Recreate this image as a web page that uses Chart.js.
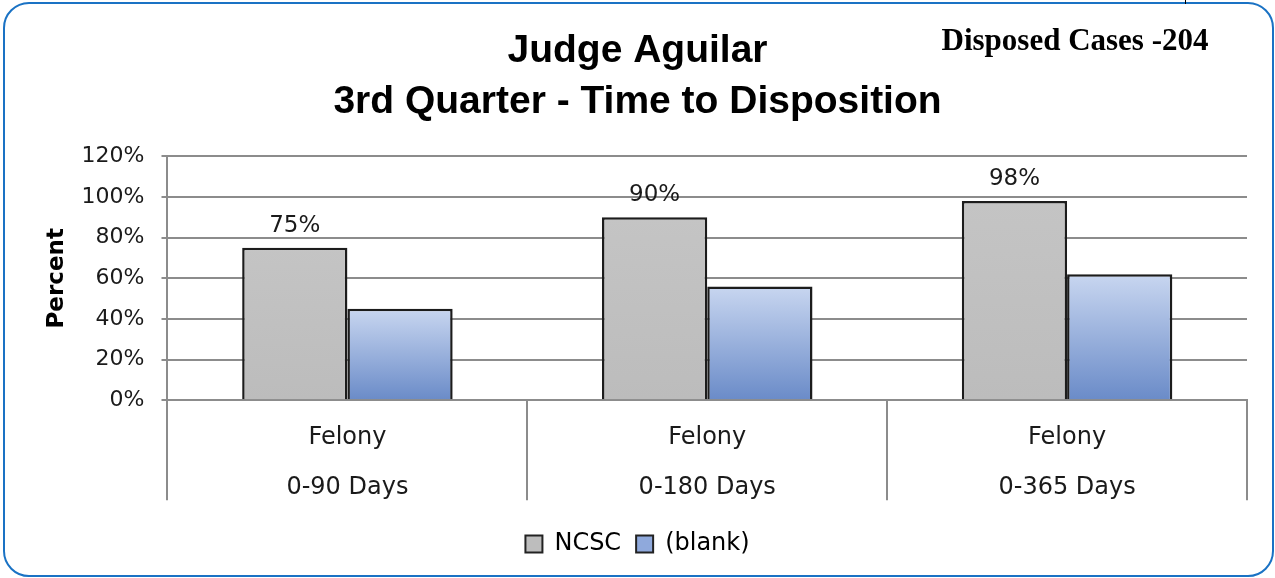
<!DOCTYPE html>
<html>
<head>
<meta charset="utf-8">
<script src="https://cdn.jsdelivr.net/npm/chart.js@4/dist/chart.umd.min.js"></script>
<style>
  body { margin: 0; background: #fff; }
  #wrap { position: relative; width: 1275px; height: 578px; overflow: hidden; }
  #frame { position: absolute; left: 3px; top: 2px; width: 1267px; height: 571px;
           border: 2px solid #1a72c4; border-radius: 26px; pointer-events: none; }
  #mark { position: absolute; left: 1185px; top: 0; width: 1px; height: 4px; background: #000; }
  #cases { position: absolute; left: 900px; width: 350px; top: 22px; text-align: center;
           font: bold 31px "Liberation Serif", serif; color: #000; }
</style>
</head>
<body>
<div id="wrap">
  <canvas id="days_chart" width="1275" height="578"></canvas>
  <div id="frame"></div>
  <div id="mark"></div>
  <div id="cases">Disposed Cases -204</div>
</div>
<script>
var categories = [['Felony', '0-90 Days'], ['Felony', '0-180 Days'], ['Felony', '0-365 Days']];
var ncsc_values = [75, 90, 98];
var blank_values = [45, 56, 62];
var y_ticks = [0, 20, 40, 60, 80, 100, 120];

var axisFont = 'DejaVu Sans';

// gradient per bar, light at the top and darker at the base
function barGradient(ctx, top, bottom) {
  var chart = ctx.chart;
  var area = chart.chartArea;
  if (!area) return bottom;
  var ys = chart.scales.y;
  var v = ctx.dataset.data[ctx.dataIndex];
  var g = chart.ctx.createLinearGradient(0, ys.getPixelForValue(v), 0, ys.getPixelForValue(0));
  g.addColorStop(0, top);
  g.addColorStop(1, bottom);
  return g;
}

var valueLabels = {
  id: 'valueLabels',
  afterDatasetsDraw: function(chart) {
    var c = chart.ctx;
    var meta = chart.getDatasetMeta(0);
    c.save();
    c.font = '23px ' + axisFont;
    c.fillStyle = '#1a1a1a';
    c.textAlign = 'center';
    c.textBaseline = 'alphabetic';
    meta.data.forEach(function(bar, i) {
      c.fillText(ncsc_values[i] + '%', bar.x, bar.y - 16);
    });
    c.restore();
  }
};

// vertical separators between the category groups, below the axis
var groupLines = {
  id: 'groupLines',
  afterDraw: function(chart) {
    var xs = chart.scales.x;
    var c = chart.ctx;
    var step = xs.width / categories.length;
    c.save();
    c.strokeStyle = '#8c8c8c';
    c.lineWidth = 2;
    for (var i = 0; i <= categories.length; i++) {
      var x = Math.round(xs.left + i * step);
      c.beginPath();
      c.moveTo(x, xs.top);
      c.lineTo(x, xs.top + 100);
      c.stroke();
    }
    c.restore();
  }
};

var myChart = new Chart(document.getElementById('days_chart'), {
  type: 'bar',
  data: {
    labels: categories,
    datasets: [{
      label: 'NCSC',
      data: ncsc_values,
      backgroundColor: function(ctx) { return barGradient(ctx, '#c4c4c4', '#bcbcbc'); },
      borderColor: '#1c1c1c',
      borderWidth: 2.5,
      borderSkipped: 'bottom',
      categoryPercentage: 0.585,
      barPercentage: 1.0
    }, {
      label: '(blank)',
      data: blank_values,
      backgroundColor: function(ctx) { return barGradient(ctx, '#c8d6f0', '#6a8bc8'); },
      borderColor: '#1c1c1c',
      borderWidth: 2.5,
      borderSkipped: 'bottom',
      categoryPercentage: 0.585,
      barPercentage: 1.0
    }]
  },
  options: {
    responsive: false,
    devicePixelRatio: 1,
    animation: false,
    layout: { padding: { left: 28, right: 28, top: 0, bottom: 12 } },
    plugins: {
      title: {
        display: true,
        text: ['Judge Aguilar', '3rd Quarter - Time to Disposition'],
        color: '#000',
        font: { family: 'Liberation Sans', size: 39, weight: 'bold', lineHeight: 1.3 },
        padding: { top: 26, bottom: 29 }
      },
      legend: {
        position: 'bottom',
        labels: {
          color: '#000',
          font: { family: axisFont, size: 24 },
          boxWidth: 17,
          boxHeight: 17,
          padding: 15,
          generateLabels: function(chart) {
            return [
              { text: 'NCSC', fillStyle: '#bdbdbd', strokeStyle: '#222', lineWidth: 2, datasetIndex: 0 },
              { text: '(blank)', fillStyle: '#8fa9dc', strokeStyle: '#222', lineWidth: 2, datasetIndex: 1 }
            ];
          }
        }
      },
      tooltip: { enabled: false }
    },
    scales: {
      x: {
        grid: { display: false },
        border: { color: '#8c8c8c', width: 2 },
        ticks: { color: '#1a1a1a', padding: 4, font: { family: axisFont, size: 24, lineHeight: 2.1 }, maxRotation: 0 }
      },
      y: {
        min: 0,
        max: 120,
        afterBuildTicks: function(axis) { axis.ticks = y_ticks.map(function(v) { return { value: v }; }); },
        ticks: { color: '#1a1a1a', padding: 17, font: { family: axisFont, size: 22 },
                 callback: function(v) { return v + '%'; } },
        grid: { color: '#8c8c8c', lineWidth: 2, tickLength: 6 },
        border: { color: '#8c8c8c', width: 2 },
        title: { display: true, text: 'Percent', color: '#000', padding: { top: 15, bottom: -6 },
                 font: { family: axisFont, size: 23, weight: 'bold' } }
      }
    }
  },
  plugins: [valueLabels, groupLines]
});
</script>
</body>
</html>
